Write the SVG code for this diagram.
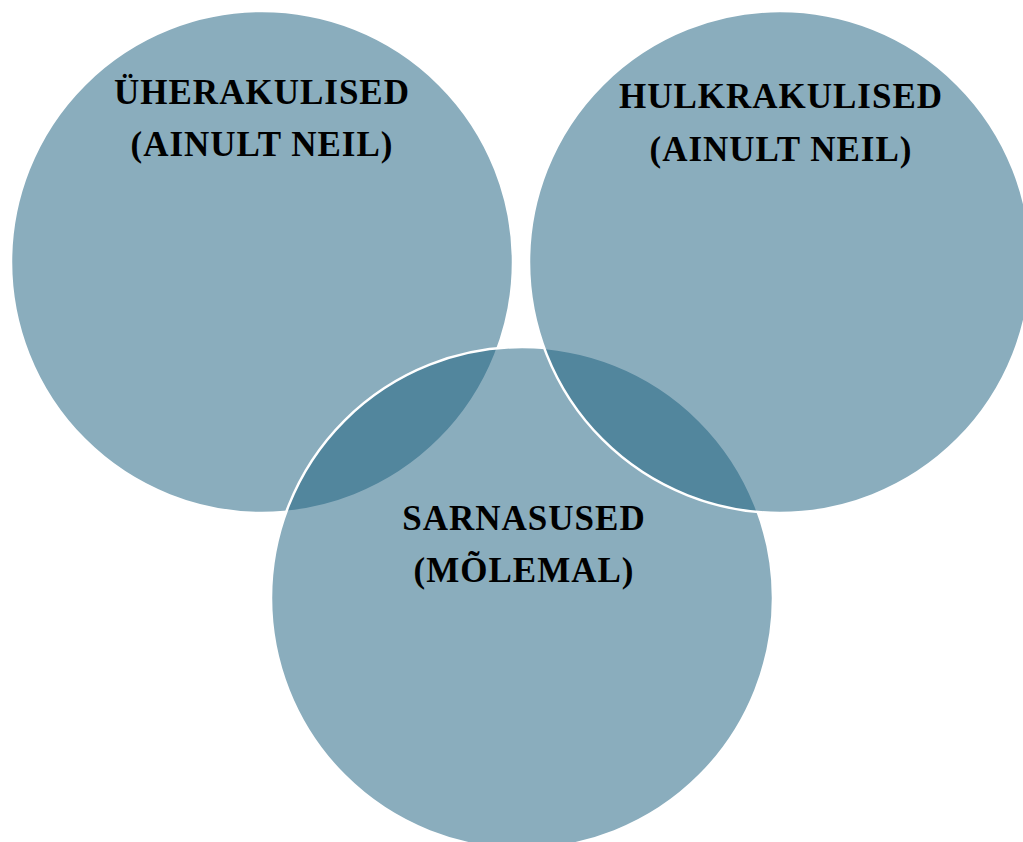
<svg xmlns="http://www.w3.org/2000/svg" width="1023" height="842" viewBox="0 0 1023 842">
<style>
.c{fill:#1e6180;fill-opacity:0.52;stroke:#ffffff;stroke-width:2.5}
.t{font-family:"Liberation Serif","Times New Roman",serif;font-weight:bold;font-size:35px;letter-spacing:1px;fill:#000;text-anchor:middle}
</style>
<rect width="1023" height="842" fill="#ffffff"/>
<g id="left"><circle class="c" cx="262" cy="262" r="251"/></g>
<g id="bottom"><circle class="c" cx="522" cy="598" r="251"/></g>
<g id="right"><circle class="c" cx="780" cy="262" r="251"/></g>
<g id="connectors"></g>
<g id="label-left"><text class="t" x="262" y="104">ÜHERAKULISED</text><text class="t" x="262" y="156">(AINULT NEIL)</text></g>
<g id="label-right"><text class="t" x="781" y="108">HULKRAKULISED</text><text class="t" x="781" y="161">(AINULT NEIL)</text></g>
<g id="label-bottom"><text class="t" x="524" y="530">SARNASUSED</text><text class="t" x="524" y="582">(MÕLEMAL)</text></g>
</svg>
